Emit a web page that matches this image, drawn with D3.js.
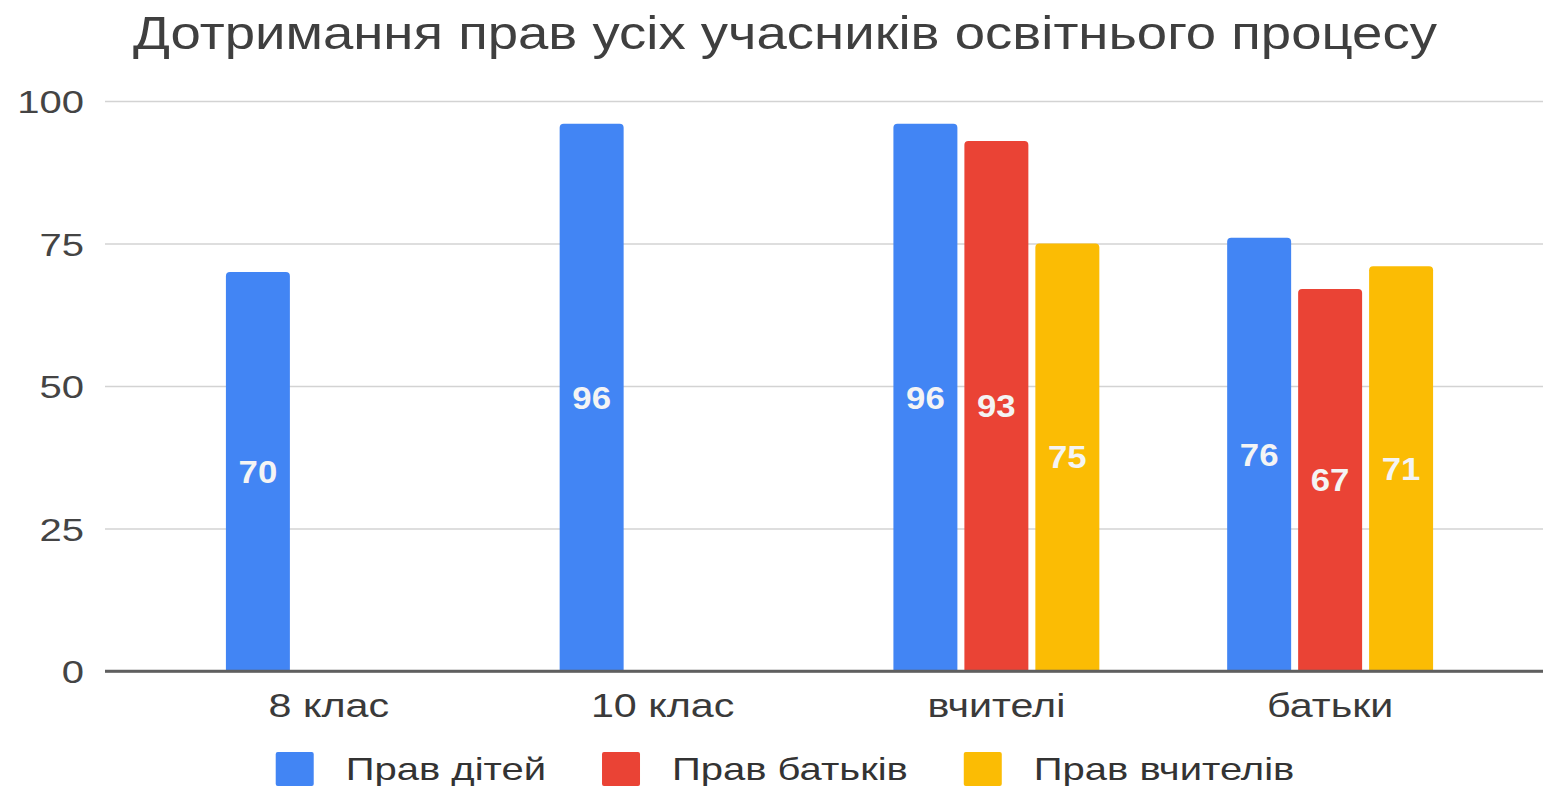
<!DOCTYPE html>
<html>
<head>
<meta charset="utf-8">
<script src="https://cdn.jsdelivr.net/npm/d3@7"></script>
<style>
  html, body { margin: 0; padding: 0; background: #fff; }
  svg { display: block; }
  text { font-family: "Liberation Sans", Arial, sans-serif; }
</style>
</head>
<body>
<svg id="chart" width="1543" height="786"></svg>
<script>
// ---- data ----
const title = "Дотримання прав усіх учасників освітнього процесу";
const categories = ["8 клас", "10 клас", "вчителі", "батьки"];
const seriesNames = ["Прав дітей", "Прав батьків", "Прав вчителів"];
const pravDitei   = [70, 96, 96, 76];
const pravBatkiv  = [null, null, 93, 67];
const pravVchyteliv = [null, null, 75, 71];
const yTicks = [0, 25, 50, 75, 100];
const colors = ["#4285F4", "#EA4335", "#FBBC04"];

const seriesValues = [pravDitei, pravBatkiv, pravVchyteliv];

// ---- layout ----
const W = 1543, H = 786;
const gridLeft = 105, gridRight = 1543;
const plotTop = 101, plotBottom = 671;

const svg = d3.select("#chart");

function stretch(sel, factor) {
  sel.each(function () {
    const len = this.getComputedTextLength();
    d3.select(this).attr("textLength", len * factor).attr("lengthAdjust", "spacingAndGlyphs");
  });
}

const y = d3.scaleLinear().domain([0, 100]).range([plotBottom, plotTop]);
const x0 = d3.scaleBand().domain(categories).range([162, 1497])
  .paddingInner(0.383).paddingOuter(0.383 / 2);
const x1 = d3.scaleBand().domain(seriesNames).range([0, x0.bandwidth()])
  .paddingInner(0.0986).paddingOuter(0);

// title
svg.append("text")
  .attr("x", 785).attr("y", 49)
  .attr("text-anchor", "middle")
  .attr("font-size", 47)
  .attr("fill", "#3f3f3f")
  .text(title)
  .call(stretch, 1.16);

// gridlines
const yAxis = d3.axisLeft(y).tickValues(yTicks).tickSize(-(gridRight - gridLeft)).tickPadding(21).tickFormat(d3.format("d"));
const gAxis = svg.append("g").attr("transform", `translate(${gridLeft},0)`).call(yAxis);
gAxis.select(".domain").remove();
gAxis.selectAll(".tick line").attr("stroke", "#d3d3d3").attr("stroke-width", 1.5);
gAxis.selectAll(".tick text")
  .attr("font-size", 32).attr("fill", "#444")
  .attr("font-family", "Liberation Sans, Arial, sans-serif")
  .attr("dy", "0.36em")
  .call(stretch, 1.25);
gAxis.selectAll(".tick").filter(d => d === 0).select("line")
  .attr("stroke", "#5f5f5f").attr("stroke-width", 2.5);

// bars
function topRoundedRect(x, yTop, w, h, r) {
  r = Math.min(r, h, w / 2);
  return `M${x},${yTop + h}V${yTop + r}Q${x},${yTop} ${x + r},${yTop}H${x + w - r}Q${x + w},${yTop} ${x + w},${yTop + r}V${yTop + h}Z`;
}

const barData = [];
categories.forEach((c, ci) => {
  seriesNames.forEach((s, si) => {
    const v = seriesValues[si][ci];
    if (v != null) barData.push({ c, s, si, v });
  });
});

const gBars = svg.append("g");
gBars.selectAll("path.bar").data(barData).join("path")
  .attr("class", "bar")
  .attr("fill", d => colors[d.si])
  .attr("d", d => {
    const bx = x0(d.c) + x1(d.s);
    return topRoundedRect(bx, y(d.v), x1.bandwidth(), y(0) - y(d.v) - 1, 4);
  });

// re-draw baseline on top of bars
svg.append("line")
  .attr("x1", gridLeft).attr("x2", gridRight)
  .attr("y1", y(0)).attr("y2", y(0))
  .attr("stroke", "#5f5f5f").attr("stroke-width", 2.5);

// data labels
gBars.selectAll("text.lbl").data(barData).join("text")
  .attr("class", "lbl")
  .attr("x", d => x0(d.c) + x1(d.s) + x1.bandwidth() / 2)
  .attr("y", d => (y(d.v) + y(0)) / 2)
  .attr("dy", "0.36em")
  .attr("text-anchor", "middle")
  .attr("font-size", 31)
  .attr("font-weight", "bold")
  .attr("fill", "#f4f4f4")
  .text(d => d.v)
  .call(stretch, 1.12);

// x labels
const xAxis = d3.axisBottom(x0).tickSize(0).tickPadding(34);
const gX = svg.append("g").attr("transform", `translate(0,${plotBottom})`).call(xAxis);
gX.select(".domain").remove();
gX.selectAll(".tick text")
  .attr("font-size", 33).attr("fill", "#3a3a3a")
  .attr("font-family", "Liberation Sans, Arial, sans-serif")
  .attr("dy", "0.36em")
  .call(stretch, 1.25);

// legend
const gLeg = svg.append("g");
const legItems = gLeg.selectAll("g.item").data(seriesNames).join("g").attr("class", "item");
legItems.append("rect")
  .attr("width", 38).attr("height", 34).attr("y", 752).attr("rx", 2)
  .attr("fill", (d, i) => colors[i]);
legItems.append("text")
  .attr("y", 768).attr("dy", "0.36em")
  .attr("font-size", 32).attr("fill", "#333")
  .text(d => d)
  .call(stretch, 1.25);
let cursor = 0;
const offsets = [];
legItems.each(function (d, i) {
  const t = d3.select(this).select("text");
  const tw = +t.attr("textLength");
  offsets.push(cursor);
  d3.select(this).select("rect").attr("x", 0);
  t.attr("x", 38 + 32);
  cursor += 38 + 32 + tw + (i < seriesNames.length - 1 ? 56 : 0);
});
const legStart = 785 - cursor / 2;
legItems.attr("transform", (d, i) => `translate(${legStart + offsets[i]},0)`);
</script>
</body>
</html>
